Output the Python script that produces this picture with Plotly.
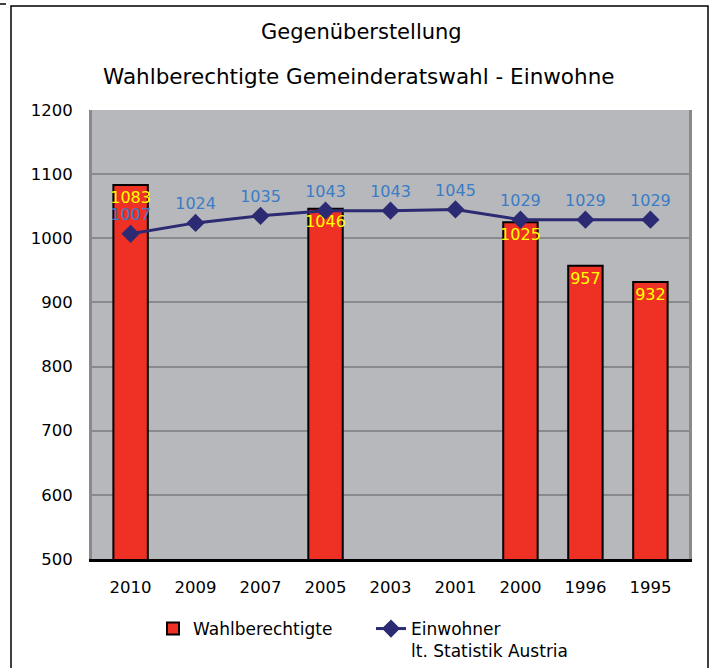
import plotly.graph_objects as go

years = ["2010", "2009", "2007", "2005", "2003", "2001", "2000", "1996", "1995"]
wahlberechtigte = [1083, None, None, 1046, None, None, 1025, 957, 932]
einwohner = [1007, 1024, 1035, 1043, 1043, 1045, 1029, 1029, 1029]
title_line1 = "Gegenüberstellung"
title_line2 = "Wahlberechtigte Gemeinderatswahl - Einwohne"
name_bar = "Wahlberechtigte"
name_line = "Einwohner<br>lt. Statistik Austria"

FONT = "DejaVu Sans, Liberation Sans, Arial, sans-serif"
W, H = 717, 668
L, R, T, B = 92, 28, 110, 109
pw, ph = W - L - R, H - T - B

def px(x):
    return (x - L) / pw

def py(y):
    return (H - B - y) / ph

fig = go.Figure()
fig.add_trace(go.Bar(
    x=years, y=wahlberechtigte, name=name_bar,
    marker=dict(color="#EE3124", line=dict(color="#000000", width=2)),
    text=[str(v) if v is not None else "" for v in wahlberechtigte],
    textposition="inside", insidetextanchor="end", constraintext="none",
    textangle=0,
    insidetextfont=dict(color="#FFFF00", size=16, family=FONT),
    width=0.53,
))
fig.add_trace(go.Scatter(
    x=years, y=einwohner, name=name_line, mode="lines+markers+text",
    line=dict(color="#2B2A72", width=3),
    marker=dict(symbol="diamond", size=14, color="#2B2A72"),
    text=[str(v) for v in einwohner], textposition="top center",
    textfont=dict(color="#3A7CC6", size=16, family=FONT),
    cliponaxis=False,
))

fig.update_layout(
    width=W, height=H,
    margin=dict(l=L, r=R, t=T, b=B, autoexpand=False),
    paper_bgcolor="white", plot_bgcolor="#B7B8BC",
    font=dict(family=FONT, size=16, color="#000000"),
    showlegend=True,
    legend=dict(orientation="h", x=px(153), y=py(611), xanchor="left", yanchor="top",
                font=dict(size=17, family=FONT), valign="top",
                entrywidth=173, entrywidthmode="pixels", bgcolor="rgba(0,0,0,0)"),
    bargap=0.47,
    xaxis=dict(type="category", showgrid=False, showline=True, linecolor="#000000",
               linewidth=3, ticks="", ticklabelstandoff=11, automargin=False,
               tickfont=dict(size=16.5, family=FONT)),
    yaxis=dict(range=[500, 1200], dtick=100, showgrid=True, gridcolor="#8A8A8C",
               gridwidth=2, showline=True, linecolor="#8A8A8C", linewidth=3,
               mirror=True, ticks="", ticklabelstandoff=13, zeroline=False,
               automargin=False, tickfont=dict(size=16.5, family=FONT)),
    annotations=[
        dict(text=title_line1, x=px(361), y=py(32), xref="paper", yref="paper",
             xanchor="center", yanchor="middle",
             showarrow=False, font=dict(size=21, family=FONT)),
        dict(text=title_line2, x=px(359), y=py(77), xref="paper", yref="paper",
             xanchor="center", yanchor="middle",
             showarrow=False, font=dict(size=21.5, family=FONT)),
    ],
    shapes=[
        dict(type="rect", xref="paper", yref="paper", x0=px(11), x1=px(708),
             y0=py(700), y1=py(6), line=dict(color="#000000", width=1.5),
             fillcolor="rgba(0,0,0,0)", layer="below"),
        dict(type="line", xref="paper", yref="paper", x0=px(0), x1=px(6),
             y0=py(4), y1=py(4), line=dict(color="#000000", width=1.5)),
    ],
)

fig.write_html(
    "out.html",
    config={"displayModeBar": False},
    post_script="document.body.style.margin='0';document.body.style.padding='0';"
                "document.body.style.overflow='hidden';",
)
